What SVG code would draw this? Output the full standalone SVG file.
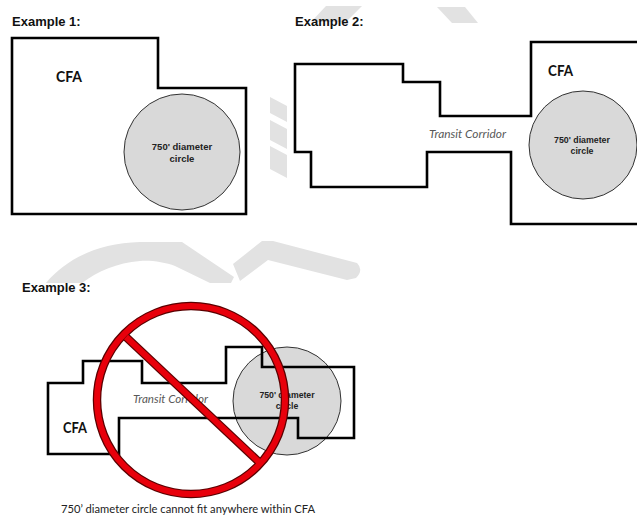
<svg xmlns="http://www.w3.org/2000/svg" width="637" height="517" viewBox="0 0 637 517">
<style>
.title{font-family:"Liberation Sans",Arial,sans-serif;font-weight:bold;font-size:13px;fill:#111}
.area{fill:none;stroke:#000;stroke-width:2.6;stroke-linejoin:miter}
.circ{fill:#d9d9d9;stroke:#333;stroke-width:1}
.ctext{font-family:"Liberation Sans",Arial,sans-serif;font-weight:bold;fill:#222;text-anchor:middle}
.cfa{font-family:Lato,"Open Sans",sans-serif;font-weight:bold;font-size:16px;fill:#111}
.tc{font-family:Lato,"Open Sans",sans-serif;font-style:italic;font-size:11px;fill:#595959}
.wm{fill:#e2e2e2;stroke:none}
.no-out{fill:none;stroke:#5a0000;stroke-width:8.5}
.no-in{fill:none;stroke:#e8000b;stroke-width:6}
</style>
<rect width="637" height="517" fill="#fff"/>
<g id="watermark">
<polygon class="wm" points="326,6 362,6 346,22 311,22"/>
<polygon class="wm" points="437,7 465,7 478,23 452,23"/>
<polygon class="wm" points="270,97 287,106 287,122 270,113"/>
<polygon class="wm" points="270,120 287,129 287,149 270,140"/>
<polygon class="wm" points="270,146 287,155 287,178 270,169"/>
<path class="wm" d="M46 283 C66 259 98 243 140 242 L182 242 L234 277 L231 283 L210 283 L175 266 C165 262 150 260 140 261 C117 263 98 271 82 283 Z"/>
<path class="wm" d="M233 264 L262 241 L273 241 L357 263 Q364 270 356 278 L347 280 L268 260 L240 281 Z"/>
</g>
<g id="example1">
<text class="title" x="12" y="26">Example 1:</text>
<polygon class="area" points="12,38 158,38 158,88 246,88 246,214 12,214"/>
<text class="cfa" x="56" y="82" textLength="26" lengthAdjust="spacingAndGlyphs">CFA</text>
<g id="circle1">
<circle class="circ" cx="182" cy="152" r="58"/>
<text class="ctext" x="182" y="150" font-size="9.5">750' diameter</text>
<text class="ctext" x="182" y="161.5" font-size="9.5">circle</text>
</g>
</g>
<g id="example2">
<text class="title" x="295" y="26">Example 2:</text>
<polygon class="area" points="295,64 403,64 403,82 440,82 440,116 531,116 531,42 645,42 645,224 511,224 511,152 427,152 427,187 311,187 311,152 295,152"/>
<text class="cfa" x="548" y="76" font-size="15" textLength="25" lengthAdjust="spacingAndGlyphs">CFA</text>
<text class="tc" x="429" y="138" textLength="77" lengthAdjust="spacingAndGlyphs">Transit Corridor</text>
<g id="circle2">
<circle class="circ" cx="583" cy="145" r="54"/>
<text class="ctext" x="582" y="143" font-size="8.8">750' diameter</text>
<text class="ctext" x="582" y="154" font-size="8.8">circle</text>
</g>
</g>
<g id="example3">
<text class="title" x="22" y="292">Example 3:</text>
<g id="circle3">
<circle class="circ" cx="287" cy="401" r="54"/>
</g>
<polygon class="area" points="48,383 83,383 83,361 142,361 142,383 226,383 226,347 262,347 262,367 354,367 354,438 298,438 298,418 119,418 119,454 48,454"/>
<text class="cfa" x="63" y="433" font-size="15" textLength="24" lengthAdjust="spacingAndGlyphs">CFA</text>
<text class="tc" x="133" y="402.5" textLength="75" lengthAdjust="spacingAndGlyphs">Transit Corridor</text>
<text class="ctext" x="287" y="398" font-size="8.7">750' diameter</text>
<text class="ctext" x="287" y="409" font-size="8.7">circle</text>
<g id="no-sign">
<circle class="no-out" cx="191" cy="400" r="94"/>
<line class="no-out" x1="126" y1="337" x2="260" y2="463"/>
<circle class="no-in" cx="191" cy="400" r="94"/>
<line class="no-in" x1="126" y1="337" x2="260" y2="463"/>
</g>
<text x="61" y="513" font-family="Lato,'Open Sans',sans-serif" font-size="11" fill="#222" textLength="254" lengthAdjust="spacingAndGlyphs">750’ diameter circle cannot fit anywhere within CFA</text>
</g>
</svg>
